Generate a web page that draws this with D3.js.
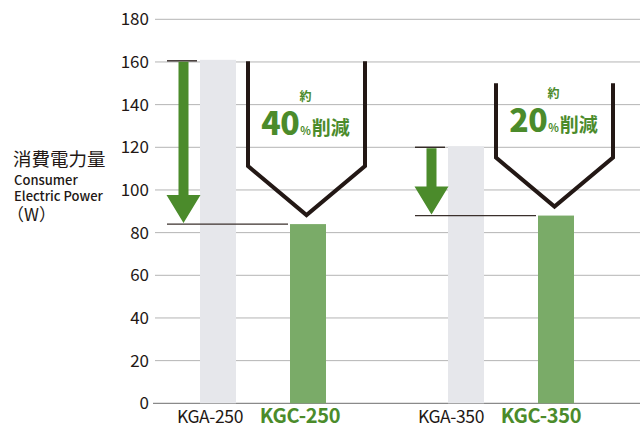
<!DOCTYPE html>
<html><head><meta charset="utf-8">
<script src="https://cdn.jsdelivr.net/npm/d3@7/dist/d3.min.js"></script>
<style>
body{margin:0;background:#fff;}
svg{display:block;font-family:"Noto Sans CJK JP","Noto Sans",sans-serif;}
</style></head>
<body>
<svg id="chart" width="643" height="428"></svg>
<script>
// ---- data ----
const groups = ["250", "350"];
const oldModels = ["KGA-250", "KGA-350"];
const newModels = ["KGC-250", "KGC-350"];
const oldValues = [161, 120.5];
const newValues = [84, 88];
const reductionPct = ["40", "20"];
const yTicks = [0, 20, 40, 60, 80, 100, 120, 140, 160, 180];
const yTitle = ["消費電力量", "Consumer", "Electric Power", "（W）"];

// ---- layout ----
const svg = d3.select("#chart");
const green = "#4b8b2b", barGreen = "#7aab68", barGrey = "#e6e7eb", dark = "#231815";
const y = d3.scaleLinear().domain([0, 180]).range([403.3, 19.3]);
const xg = d3.scaleBand().domain(groups).range([139, 635]);
const xi = d3.scalePoint().domain(["old", "new"]).range([-45, 45]);
const bw = 36;
const gx0 = 155, gx1 = 640;

// grid + ticks
svg.append("g").selectAll("line").data(yTicks.filter(d => d > 0)).join("line")
  .attr("x1", gx0).attr("x2", gx1).attr("y1", d => y(d)).attr("y2", d => y(d))
  .attr("stroke", "#b4b4b4").attr("stroke-width", 1);
svg.append("line").attr("x1", 153).attr("x2", gx1).attr("y1", y(0)).attr("y2", y(0))
  .attr("stroke", "#8a8a8a").attr("stroke-width", 1.2);
svg.append("g").selectAll("text").data(yTicks).join("text")
  .attr("x", 149).attr("y", d => y(d)).attr("dy", "0.36em")
  .attr("text-anchor", "end").attr("font-size", 17).attr("fill", dark).text(d => d);

// y title
const tt = svg.append("g").attr("fill", dark);
tt.append("text").attr("x", 13).attr("y", 166).attr("font-size", 18.5).text(yTitle[0]);
tt.append("text").attr("x", 14).attr("y", 184.5).attr("font-size", 13).attr("font-weight", 500).text(yTitle[1]);
tt.append("text").attr("x", 14).attr("y", 200.5).attr("font-size", 13).attr("font-weight", 500).text(yTitle[2]);
tt.append("text").attr("x", 7).attr("y", 221).attr("font-size", 17).text(yTitle[3]);

const cx = (g, k) => xg(g) + xg.bandwidth() / 2 + xi(k);

// bars
svg.append("g").selectAll("rect").data(groups).join("rect")
  .attr("x", (g) => cx(g, "old") - bw / 2).attr("width", bw)
  .attr("y", (g, i) => y(oldValues[i])).attr("height", (g, i) => y(0) - y(oldValues[i]))
  .attr("fill", barGrey);
svg.append("g").selectAll("rect").data(groups).join("rect")
  .attr("x", (g) => cx(g, "new") - bw / 2).attr("width", bw)
  .attr("y", (g, i) => y(newValues[i])).attr("height", (g, i) => y(0) - y(newValues[i]))
  .attr("fill", barGreen);

// reference lines and arrows
const topBracket = [160.3, 150];
groups.forEach((g, i) => {
  const oldL = cx(g, "old") - bw / 2;
  const newL = cx(g, "new") - bw / 2;
  const yo = y(oldValues[i]) + 1, yn = y(newValues[i]);
  svg.append("line").attr("x1", oldL - 33).attr("x2", oldL - 3).attr("y1", yo).attr("y2", yo)
    .attr("stroke", dark).attr("stroke-width", 1.3);
  svg.append("line").attr("x1", oldL - 33).attr("x2", newL - 2).attr("y1", yn).attr("y2", yn)
    .attr("stroke", "#3b302c").attr("stroke-width", 1.3);
  const ax = oldL - 16.5;
  const headH = 29, headW = 34, sw = 10;
  const path = d3.path();
  path.moveTo(ax - sw / 2, yo + 1);
  path.lineTo(ax + sw / 2, yo + 1);
  path.lineTo(ax + sw / 2, yn - headH);
  path.lineTo(ax + headW / 2, yn - headH);
  path.lineTo(ax, yn - 1);
  path.lineTo(ax - headW / 2, yn - headH);
  path.lineTo(ax - sw / 2, yn - headH);
  path.closePath();
  svg.append("path").attr("d", path.toString()).attr("fill", green);

  // bracket
  const bc = cx(g, "new") - 1.5;
  const hw = 58.5;
  const tip = yn - 9;
  const b = d3.path();
  b.moveTo(bc - hw, y(topBracket[i]));
  b.lineTo(bc - hw, tip - 49);
  b.lineTo(bc, tip);
  b.lineTo(bc + hw, tip - 49);
  b.lineTo(bc + hw, y(topBracket[i]));
  svg.append("path").attr("d", b.toString()).attr("fill", "none")
    .attr("stroke", dark).attr("stroke-width", 4);

  // text
  const base = i === 0 ? 135 : 132;
  svg.append("text").attr("x", bc - 1).attr("y", base - 34).attr("text-anchor", "middle")
    .attr("font-size", 12).attr("font-weight", 700).attr("fill", green).text("約");
  const t = svg.append("text").attr("x", bc - 1).attr("y", base).attr("text-anchor", "middle")
    .attr("fill", green).attr("font-weight", 700);
  t.append("tspan").attr("font-size", 32).attr("font-weight", 900).attr("letter-spacing", -0.5).text(reductionPct[i]);
  t.append("tspan").attr("font-size", 11).attr("dx", 1).text("%");
  t.append("tspan").attr("font-size", 19).attr("dx", 1).text("削減");
});

// category labels
const labelShift = [-8, -15];
groups.forEach((g, i) => {
  svg.append("text").attr("x", cx(g, "old") + labelShift[i]).attr("y", 423)
    .attr("text-anchor", "middle").attr("font-size", 17.5).attr("fill", dark)
    .attr("letter-spacing", -0.4).text(oldModels[i]);
  svg.append("text").attr("x", cx(g, "new") + labelShift[i]).attr("y", 423)
    .attr("text-anchor", "middle").attr("font-size", 20).attr("font-weight", 700)
    .attr("fill", green).attr("letter-spacing", -0.3).text(newModels[i]);
});
</script>
</body></html>
